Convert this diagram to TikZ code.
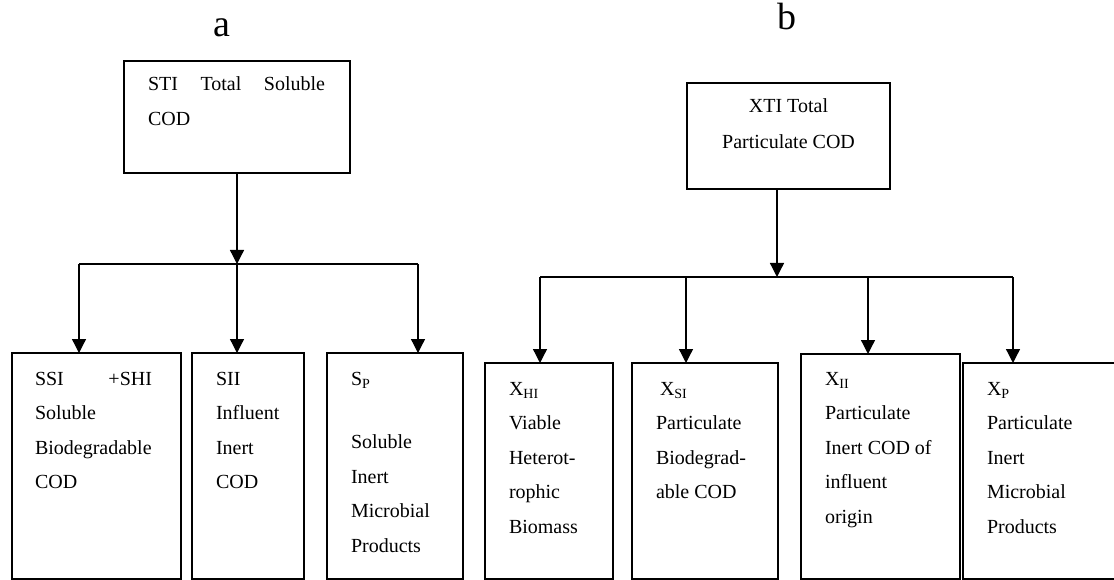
\documentclass[tikz,border=0pt]{standalone}
\usepackage{fontspec}
\setmainfont{Liberation Serif}
\usetikzlibrary{arrows.meta}
\newcommand\boxtext[2][34.6]{\parbox[t]{220pt}{\fontsize{20}{#1}\selectfont\raggedright #2}}
\begin{document}
\begin{tikzpicture}[x=1pt,y=-1pt,
  box/.style={draw,line width=1.6pt,rectangle,anchor=north west,inner sep=0pt,outer sep=0pt},
  txt/.style={anchor=base west,inner sep=0pt,outer sep=0pt},
  conn/.style={line width=1.3pt},
  arr/.style={conn,-{Triangle[width=14pt,length=14pt]}},
  lbl/.style={anchor=base,inner sep=0pt,font=\fontsize{38}{38}\selectfont}]
\useasboundingbox (0,0) rectangle (1114,580);
% labels
\node[lbl] (la) at (221.5,37) {a};
\node[lbl] (lb) at (786.5,30) {b};
% ---------- a ----------
\node[box,minimum width=226pt,minimum height=112pt] (sti) at (124,61) {};
\node[txt] (stiT) at (148,91) {\boxtext[35]{\makebox[177pt][s]{STI Total Soluble}\\COD}};
\node[box,minimum width=169pt,minimum height=226pt] (ssi) at (12,353) {};
\node[box,minimum width=112pt,minimum height=226pt] (sii) at (192,353) {};
\node[box,minimum width=136pt,minimum height=226pt] (sp) at (327,353) {};
\node[txt] (ssiT) at (35,385) {\boxtext{\makebox[117pt][s]{SSI +SHI}\\Soluble\\Biodegradable\\COD}};
\node[txt] (siiT) at (216,385) {\boxtext{SII\\Influent\\Inert\\COD}};
\node[txt] (spT) at (351,385) {\boxtext{S\textsubscript{P}\\[29pt]Soluble\\Inert\\Microbial\\Products}};
\coordinate (ja) at (237,264);
\coordinate (aL) at (79,264);
\coordinate (aR) at (418,264);
\draw[arr] (sti.south) -- (ja);
\draw[conn] (aL) -- (aR);
\draw[arr] (aL) -- (aL |- ssi.north);
\draw[arr] (ja) -- (ja |- sii.north);
\draw[arr] (aR) -- (aR |- sp.north);
% ---------- b ----------
\node[box,minimum width=203pt,minimum height=106pt] (xti) at (687,83) {};
\node[anchor=base,inner sep=0pt] (xtiT) at (788.5,113) {\parbox[t]{200pt}{\centering\fontsize{20}{36}\selectfont XTI Total\\Particulate COD}};
\node[box,minimum width=128pt,minimum height=216pt] (xhi) at (485,363) {};
\node[box,minimum width=146pt,minimum height=216pt] (xsi) at (632,363) {};
\node[box,minimum width=159pt,minimum height=225pt] (xii) at (801,354) {};
\node[box,minimum width=160pt,minimum height=216pt] (xp) at (963,363) {};
\node[txt] (xhiT) at (509,395) {\boxtext{X\textsubscript{HI}\\Viable\\Heterot-\\rophic\\Biomass}};
\node[txt] (xsiT) at (656,395) {\boxtext{\hspace*{4pt}X\textsubscript{SI}\\Particulate\\Biodegrad-\\able COD}};
\node[txt] (xiiT) at (825,385) {\boxtext{X\textsubscript{II}\\Particulate\\Inert COD of\\influent\\origin}};
\node[txt] (xpT) at (987,395) {\boxtext{X\textsubscript{P}\\Particulate\\Inert\\Microbial\\Products}};
\coordinate (jb) at (777,277);
\coordinate (b1) at (540,277);
\coordinate (b2) at (686,277);
\coordinate (b3) at (868,277);
\coordinate (b4) at (1013,277);
\draw[arr] (xti.south -| jb) -- (jb);
\draw[conn] (b1) -- (b4);
\draw[arr] (b1) -- (b1 |- xhi.north);
\draw[arr] (b2) -- (b2 |- xsi.north);
\draw[arr] (b3) -- (b3 |- xii.north);
\draw[arr] (b4) -- (b4 |- xp.north);
\end{tikzpicture}
\end{document}
